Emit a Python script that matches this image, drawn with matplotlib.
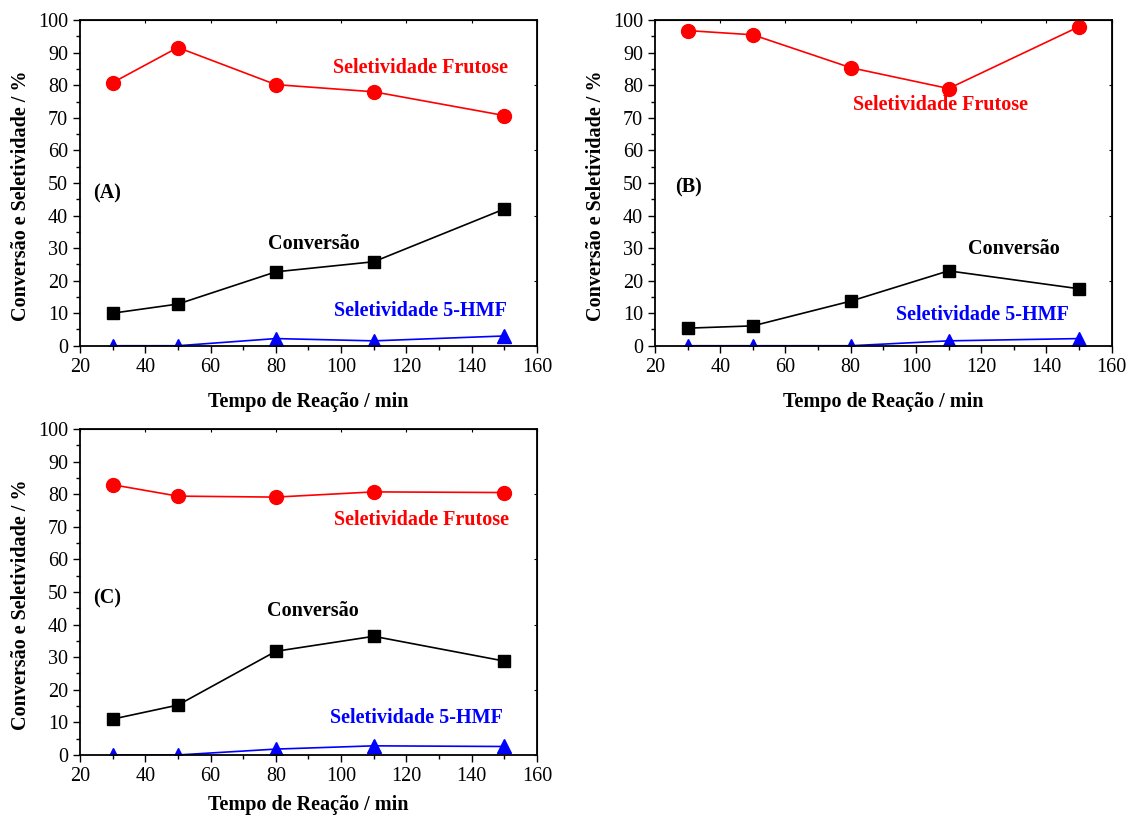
import matplotlib.pyplot as plt
from matplotlib.ticker import MultipleLocator

plt.rcParams['font.family'] = ['Liberation Serif', 'DejaVu Serif']

tempo = [30, 50, 80, 110, 150]

# (A)
frutose_a = [80.8, 91.6, 80.2, 78.0, 70.7]
conversao_a = [10.0, 12.8, 22.7, 25.8, 42.0]
hmf_a = [0.0, 0.0, 2.2, 1.5, 3.0]

# (B)
frutose_b = [96.8, 95.5, 85.4, 79.0, 98.0]
conversao_b = [5.4, 6.1, 13.7, 23.0, 17.5]
hmf_b = [0.0, 0.0, 0.0, 1.5, 2.2]

# (C)
frutose_c = [82.9, 79.4, 79.1, 80.7, 80.5]
conversao_c = [11.0, 15.3, 31.8, 36.4, 28.8]
hmf_c = [0.0, 0.0, 1.8, 2.8, 2.6]

fig = plt.figure(figsize=(11.26, 8.16), dpi=100)
ax_a = fig.add_axes([0.0710, 0.5763, 0.4059, 0.3990])
ax_b = fig.add_axes([0.5817, 0.5763, 0.4056, 0.3990])
ax_c = fig.add_axes([0.0710, 0.0748, 0.4059, 0.3995])

paineis = [
    (ax_a, frutose_a, conversao_a, hmf_a, '(A)', 11,
     (28.3, 46.7), (124.2, 85.4), (91.7, 31.3), (124.2, 10.7)),
    (ax_b, frutose_b, conversao_b, hmf_b, '(B)', 11,
     (30.4, 48.5), (107.4, 74.0), (130.0, 29.7), (120.5, 9.4)),
    (ax_c, frutose_c, conversao_c, hmf_c, '(C)', 7,
     (28.3, 47.9), (124.5, 72.1), (91.4, 44.2), (123.0, 11.3)),
]

for ax, fru, conv, hmf, letra, pad_x, p_letra, p_fru, p_conv, p_hmf in paineis:
    ax.plot(tempo, fru, '-o', color='#ff0000', lw=1.2, ms=10)
    ax.plot(tempo, conv, '-s', color='black', lw=1.2, ms=8.5)
    ax.plot(tempo, hmf, '-^', color='#0000ff', lw=1.2, ms=10.5)

    ax.set_xlim(20, 160)
    ax.set_ylim(0, 100)
    ax.xaxis.set_major_locator(MultipleLocator(20))
    ax.xaxis.set_minor_locator(MultipleLocator(10))
    ax.yaxis.set_major_locator(MultipleLocator(10))
    ax.yaxis.set_minor_locator(MultipleLocator(5))
    # ticks de fora na esquerda/baixo, curtos para dentro no topo/direita
    ax.tick_params(which='both', direction='out', labelsize=14.5, width=1.0)
    ax.tick_params(which='major', length=5)
    ax.tick_params(which='minor', length=3)
    ax.secondary_xaxis('top').tick_params(which='both', direction='in', length=2,
                                          labeltop=False)
    ax.secondary_yaxis('right').tick_params(which='both', direction='in', length=2,
                                            labelright=False)
    for s in ax.spines.values():
        s.set_linewidth(1.3)

    ax.set_xlabel('Tempo de Reação / min', fontsize=14.5, fontweight='bold', labelpad=pad_x)
    ax.set_ylabel('Conversão e Seletividade / %', fontsize=14.5, fontweight='bold')
    ax.yaxis.set_label_coords(-0.108, 0.46)

    ax.text(*p_letra, letra, fontsize=14.5, fontweight='bold', ha='center', va='center')
    ax.text(*p_fru, 'Seletividade Frutose', color='#ff0000', fontsize=14.5,
            fontweight='bold', ha='center', va='center')
    ax.text(*p_conv, 'Conversão', color='black', fontsize=14.5,
            fontweight='bold', ha='center', va='center')
    ax.text(*p_hmf, 'Seletividade 5-HMF', color='#0000ff', fontsize=14.5,
            fontweight='bold', ha='center', va='center')

fig.savefig('out.png', dpi=100)
